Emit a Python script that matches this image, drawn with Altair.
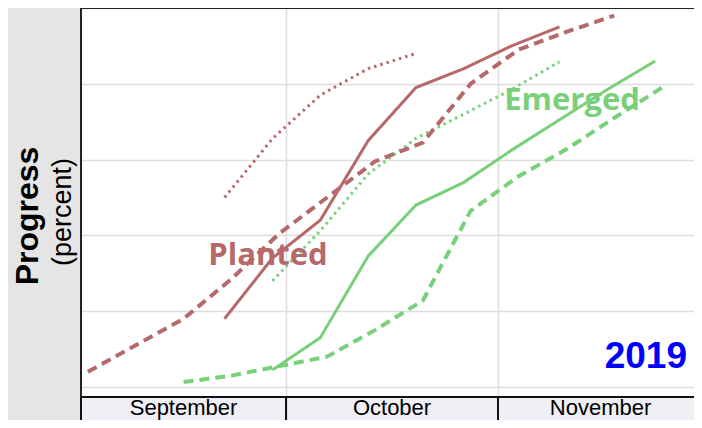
import altair as alt
import pandas as pd

# x values: days since 1 September 2019 (0 = Sep 1)
planted_days = [21, 28, 35, 42, 49, 56, 63, 70]
planted_2019 = [18, 34, 44, 65, 79, 84, 90, 95]
planted_avg_days = [1, 8, 15, 22, 29, 36, 43, 50, 57, 64, 71, 78]
planted_avg = [4, 11, 18, 28.5, 40.5, 50, 59.5, 64.5, 80, 89, 93.7, 98]
planted_prev_days = [21, 28, 35, 42, 49]
planted_prev = [50, 65.5, 77, 84, 88]

emerged_days = [28, 35, 42, 49, 56, 63, 70, 77, 84]
emerged_2019 = [4.5, 13, 34.5, 48, 54, 62.5, 70.5, 78.5, 86]
emerged_avg_days = [15, 22, 29, 36, 43, 50, 57, 64, 71, 78, 85]
emerged_avg = [1.3, 3, 5.5, 8, 15, 22.8, 46.5, 55.6, 62.7, 71, 79]
emerged_prev_days = [28, 35, 42, 49, 56, 63, 70]
emerged_prev = [28, 41.2, 56.2, 65.6, 72, 78.5, 85.8]

months = ["September", "October", "November"]
month_start = [0, 30, 61]
month_end = [30, 61, 91]
y_ticks = [0, 20, 40, 60, 80, 100]
x_grid = [30, 61]

RED = "#b5696a"
GREEN = "#79d07b"
PLOT_W = 613
PLOT_H = 389

xscale = alt.Scale(domain=[0, PLOT_W / 6.836], nice=False, zero=False)
yscale = alt.Scale(domain=[-2.64, 100], nice=False, zero=False)
xaxis = alt.Axis(values=x_grid, grid=True, labels=False, ticks=False, domain=False, title=None)
yaxis = alt.Axis(values=y_ticks, grid=True, labels=False, ticks=False, domain=False, title=None)


def line(days, vals, color, width, dash=None):
    df = pd.DataFrame({"day": days, "pct": vals})
    kw = dict(color=color, strokeWidth=width)
    if dash:
        kw["strokeDash"] = dash
    return alt.Chart(df).mark_line(**kw).encode(
        x=alt.X("day:Q", scale=xscale, axis=xaxis),
        y=alt.Y("pct:Q", scale=yscale, axis=yaxis),
    )


layers = [
    line(planted_prev_days, planted_prev, RED, 3, [2.5, 4]),
    line(emerged_prev_days, emerged_prev, GREEN, 3, [2.5, 4]),
    line(planted_avg_days, planted_avg, RED, 4, [10, 6]),
    line(emerged_avg_days, emerged_avg, GREEN, 4, [10, 6]),
    line(planted_days, planted_2019, RED, 3),
    line(emerged_days, emerged_2019, GREEN, 3),
]

mdf = pd.DataFrame({"month": months, "start": month_start, "end": month_end})
mdf["mid"] = (mdf["start"] + mdf["end"]) / 2

month_bar = alt.Chart(mdf).mark_rect(fill="#efeff5", stroke="#111111", strokeWidth=2).encode(
    x=alt.X("start:Q", scale=xscale, axis=xaxis),
    x2="end:Q",
    y=alt.value(PLOT_H),
    y2=alt.value(PLOT_H + 40),
)
month_text = alt.Chart(mdf).mark_text(
    font="Liberation Sans", fontSize=22, color="#000000", baseline="alphabetic", align="center"
).encode(
    x=alt.X("mid:Q", scale=xscale, axis=xaxis),
    y=alt.value(PLOT_H + 18),
    text="month:N",
)

border_df = pd.DataFrame({"k": [0]})
left_border = alt.Chart(border_df).mark_rule(color="#222222", strokeWidth=2).encode(
    x=alt.value(0), y=alt.value(0), y2=alt.value(PLOT_H)
)
top_border = alt.Chart(border_df).mark_rule(color="#222222", strokeWidth=2).encode(
    y=alt.value(0), x=alt.value(0), x2=alt.value(PLOT_W)
)


def label(txt, x, y, **kw):
    return alt.Chart(pd.DataFrame({"t": [txt]})).mark_text(**kw).encode(
        x=alt.value(x), y=alt.value(y), text="t:N"
    )


planted_lbl = label("Planted", 187, 257, font="Open Sans", fontWeight="bold", fontSize=31,
                    color=RED, align="center", baseline="alphabetic")
emerged_lbl = label("Emerged", 491, 102, font="Open Sans", fontWeight="bold", fontSize=31,
                    color=GREEN, align="center", baseline="alphabetic")
year_lbl = label("2019", 606, 360, font="Liberation Sans", fontWeight="bold", fontSize=37,
                 color="#0000ff", align="right", baseline="alphabetic")
prog_lbl = label("Progress", -53, 208, font="Liberation Sans", fontWeight="bold", fontSize=32,
                 color="#000000", align="center", baseline="middle", angle=270)
pct_lbl = label("(percent)", -18, 204, font="Liberation Sans", fontSize=27,
                color="#000000", align="center", baseline="middle", angle=270)

chart = alt.layer(
    *layers, month_bar, month_text, left_border, top_border,
    planted_lbl, emerged_lbl, year_lbl, prog_lbl, pct_lbl
).properties(
    width=PLOT_W,
    height=PLOT_H,
    padding={"left": 73, "top": 0, "right": 0, "bottom": 23},
    autosize=alt.AutoSizeParams(type="none"),
    background="#e5e5e5",
).configure_view(
    fill="#ffffff", stroke=None
).configure_axis(
    gridColor="#dddddd", gridWidth=1.5
)

chart.save("out.html", embed_options={"renderer": "svg", "actions": False})
